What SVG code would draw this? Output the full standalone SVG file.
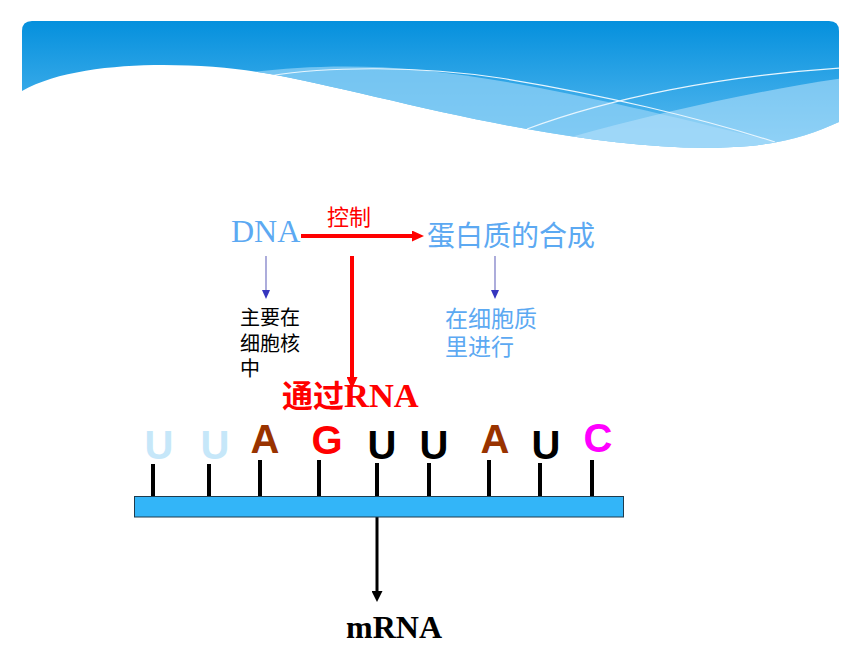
<svg xmlns="http://www.w3.org/2000/svg" width="860" height="645" viewBox="0 0 860 645">
<style>
.cjk{font-family:"Noto Sans CJK SC","Liberation Sans",sans-serif}
.serif{font-family:"Liberation Serif","Noto Sans CJK SC",serif}
.base{font-family:"Liberation Sans",Arial,sans-serif;font-weight:bold;font-size:40px;text-anchor:middle}
.stem{stroke:#000;stroke-width:4}
.blue{fill:#5CA9F2}
</style>
<defs>
<linearGradient id="hdr" x1="0" y1="21" x2="0" y2="150" gradientUnits="userSpaceOnUse">
<stop offset="0" stop-color="#0590DD"/>
<stop offset="1" stop-color="#5EBDF1"/>
</linearGradient>
<clipPath id="hc">
<path d="M32,21 H829 Q839,21 839,31 V122 C815,133 790,142 750,146 C680,152 600,142 527,129 C430,112 330,84 264,73 C200,62 80,58 22,91 V31 Q22,21 32,21 Z"/>
</clipPath>
<marker id="ar" markerUnits="userSpaceOnUse" markerWidth="12" markerHeight="11" refX="0" refY="5.5" orient="auto"><path d="M0,0 L12,5.5 L0,11 Z" fill="#FF0000"/></marker>
<marker id="ab" markerUnits="userSpaceOnUse" markerWidth="9" markerHeight="8" refX="0" refY="4" orient="auto"><path d="M0,0 L9,4 L0,8 Z" fill="#3535BE"/></marker>
<marker id="ak" markerUnits="userSpaceOnUse" markerWidth="11" markerHeight="11" refX="0" refY="5.5" orient="auto"><path d="M0,0 L11,5.5 L0,11 Z" fill="#000"/></marker>
</defs>

<g id="header">
<path d="M32,21 H829 Q839,21 839,31 V122 C815,133 790,142 750,146 C680,152 600,142 527,129 C430,112 330,84 264,73 C200,62 80,58 22,91 V31 Q22,21 32,21 Z" fill="url(#hdr)"/>
<g clip-path="url(#hc)">
<path d="M253,72 C300,66 360,64 420,70 C520,80 640,108 775,142 L775,160 L253,160 Z" fill="#8FD0F6" opacity="0.75"/>
<path d="M571,137 C660,112 760,90 845,78 L845,160 L571,160 Z" fill="#B2E0FA" opacity="0.6"/>
<path d="M269,76 C330,66 420,66 500,78 C600,94 700,118 775,142" fill="none" stroke="#E6F5FE" stroke-width="1.2"/>
<path d="M527,129 C610,98 720,76 841,68" fill="none" stroke="#E6F5FE" stroke-width="1.2"/>
</g>
</g>

<g id="connectors">
<line x1="301" y1="236" x2="412" y2="236" stroke="#FF0000" stroke-width="4" marker-end="url(#ar)"/>
<line x1="352" y1="256" x2="352" y2="377" stroke="#FF0000" stroke-width="4" marker-end="url(#ar)"/>
<line x1="266" y1="256" x2="266" y2="290" stroke="#8080C8" stroke-width="1.3" marker-end="url(#ab)"/>
<line x1="495" y1="256" x2="495" y2="290" stroke="#8080C8" stroke-width="1.3" marker-end="url(#ab)"/>
<line x1="377" y1="517" x2="377" y2="591" stroke="#000" stroke-width="3" marker-end="url(#ak)"/>
</g>

<g id="node-dna"><text x="231" y="242" class="serif blue" font-size="32">DNA</text></g>
<g id="label-control"><text x="349" y="225" class="cjk" font-size="22" fill="#FF0000" text-anchor="middle">控制</text></g>
<g id="node-protein"><text x="427" y="246" class="cjk blue" font-size="28">蛋白质的合成</text></g>
<g id="node-nucleus" class="cjk" font-size="20" fill="#000">
<text x="240" y="325">主要在</text>
<text x="240" y="351">细胞核</text>
<text x="240" y="376">中</text>
</g>
<g id="node-cytoplasm" class="cjk blue" font-size="23">
<text x="445" y="327">在细胞质</text>
<text x="445" y="355">里进行</text>
</g>
<g id="node-rna"><text x="282" y="407" fill="#FF0000" font-weight="bold"><tspan class="cjk" font-size="31">通过</tspan><tspan class="serif" font-size="34.5">RNA</tspan></text></g>

<g id="node-mrna-strand">
<line class="stem" x1="153" y1="464" x2="153" y2="497"/>
<line class="stem" x1="209" y1="464" x2="209" y2="497"/>
<line class="stem" x1="260" y1="460" x2="260" y2="497"/>
<line class="stem" x1="319" y1="460" x2="319" y2="497"/>
<line class="stem" x1="377" y1="463" x2="377" y2="497"/>
<line class="stem" x1="429" y1="463" x2="429" y2="497"/>
<line class="stem" x1="489" y1="460" x2="489" y2="497"/>
<line class="stem" x1="540" y1="463" x2="540" y2="497"/>
<line class="stem" x1="592" y1="460" x2="592" y2="497"/>
<rect x="134.5" y="496.5" width="489" height="20.5" fill="#33B5F8" stroke="#1F3B4D" stroke-width="1"/>
<text class="base" x="159" y="459" fill="#C6E7F9">U</text>
<text class="base" x="215" y="459" fill="#C6E7F9">U</text>
<text class="base" x="265" y="453" fill="#993300">A</text>
<text class="base" x="327" y="454" fill="#FF0000">G</text>
<text class="base" x="382" y="459" fill="#000">U</text>
<text class="base" x="434" y="459" fill="#000">U</text>
<text class="base" x="495" y="453" fill="#993300">A</text>
<text class="base" x="546" y="459" fill="#000">U</text>
<text class="base" x="598" y="452" fill="#FF00FF">C</text>
</g>

<g id="node-mrna"><text x="394" y="638" class="serif" font-size="32" font-weight="bold" text-anchor="middle" fill="#000">mRNA</text></g>
</svg>
